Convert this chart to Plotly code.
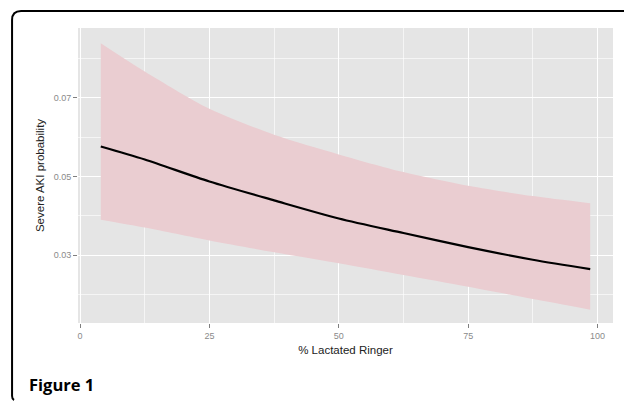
import plotly.graph_objects as go

# Data
lr_pct = [4.0, 12.5, 25, 37.5, 50, 62.5, 75, 87.5, 98.6]
fit = [0.0576, 0.0543, 0.0487, 0.0439, 0.0393, 0.0356, 0.0320, 0.0288, 0.0264]
upper = [0.0839, 0.0767, 0.0672, 0.0606, 0.0556, 0.0511, 0.0476, 0.0450, 0.0432]
lower = [0.0390, 0.0370, 0.0337, 0.0307, 0.0279, 0.0249, 0.0219, 0.0188, 0.0161]
x_ticks = [0, 25, 50, 75, 100]
y_ticks = [0.03, 0.05, 0.07]
y_tick_text = ["0.03", "0.05", "0.07"]

W, H = 624, 401
L, R, T, B = 78, 10.5, 28, 78
pw, ph = W - L - R, H - T - B

def px(x):
    return (x - L) / pw

def py(y):
    return (H - B - y) / ph

fig = go.Figure()
fig.add_trace(go.Scatter(x=lr_pct, y=lower, mode="lines", line=dict(width=0, shape="spline", smoothing=0.8),
                         showlegend=False, hoverinfo="skip"))
fig.add_trace(go.Scatter(x=lr_pct, y=upper, mode="lines", line=dict(width=0, shape="spline", smoothing=0.8),
                         fill="tonexty", fillcolor="rgb(234,205,209)", showlegend=False, hoverinfo="skip"))
fig.add_trace(go.Scatter(x=lr_pct, y=fit, mode="lines", line=dict(color="black", width=2.2, shape="spline", smoothing=0.8),
                         showlegend=False))

fig.update_xaxes(range=[-0.4, 103.0], tickvals=x_ticks, ticktext=[str(v) for v in x_ticks],
                 showgrid=True, gridcolor="white", gridwidth=1.2, zeroline=False,
                 minor=dict(dtick=12.5, tick0=12.5, showgrid=True, gridcolor="rgba(255,255,255,0.6)", gridwidth=0.6, ticks=""),
                 ticks="outside", ticklen=4, tickcolor="#7f7f7f", tickwidth=1,
                 tickfont=dict(family="Liberation Sans", size=9, color="#8a8a8a"),
                 title=dict(text="% Lactated Ringer", font=dict(family="Liberation Sans", size=11.5, color="#222222"), standoff=6),
                 showline=False, fixedrange=True, automargin=False)
fig.update_yaxes(range=[0.0127, 0.08776], tickvals=y_ticks, ticktext=y_tick_text,
                 showgrid=True, gridcolor="white", gridwidth=1.2, zeroline=False,
                 minor=dict(dtick=0.02, tick0=0.02, showgrid=True, gridcolor="rgba(255,255,255,0.6)", gridwidth=0.6, ticks=""),
                 ticks="outside", ticklen=4, tickcolor="#7f7f7f", tickwidth=1,
                 tickfont=dict(family="Liberation Sans", size=9, color="#8a8a8a"),
                 title=dict(text="Severe AKI probability", font=dict(family="Liberation Sans", size=11.5, color="#222222"), standoff=6),
                 showline=False, fixedrange=True, automargin=False)

# rounded frame around the figure (open on the right)
r = 9
frame = (f"M {px(12)},{py(396)} L {px(12)},{py(11 + r)} Q {px(12)},{py(11)} {px(12 + r)},{py(11)} L {px(640)},{py(11)}")
fig.add_shape(type="path", path=frame, xref="paper", yref="paper",
              line=dict(color="black", width=2), layer="above")
fig.add_shape(type="path", path=f"M {px(12)},{py(396)} Q {px(12)},{py(399)} {px(14)},{py(400)}",
              xref="paper", yref="paper", line=dict(color="black", width=2), layer="above")

fig.add_annotation(text="<b>Figure 1</b>", xref="paper", yref="paper", x=px(27), y=py(384),
                   xanchor="left", yanchor="middle", showarrow=False,
                   font=dict(family="Open Sans", size=16.5, color="black"))

fig.update_layout(width=W, height=H, margin=dict(l=L, r=R, t=T, b=B),
                  paper_bgcolor="white", plot_bgcolor="#e5e5e5", showlegend=False)

fig.write_html("out.html", config={"displayModeBar": False},
               post_script="document.body.style.margin='0px';document.body.style.overflow='hidden';")
